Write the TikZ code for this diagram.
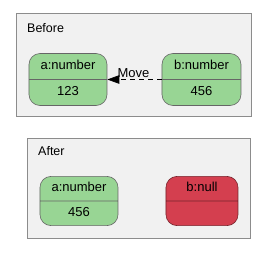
\documentclass[tikz,border=0pt]{standalone}
\usepackage{fontspec}
\setmainfont{Liberation Sans}
\usetikzlibrary{positioning,arrows.meta,shapes.multipart}
\definecolor{varGreen}{HTML}{98D594}
\definecolor{varRed}{HTML}{D43F4F}
\definecolor{frameFill}{HTML}{F1F1F1}
\tikzset{
  % --- containers ------------------------------------------------------
  frame/.style   ={draw=black!45, fill=frameFill, line width=0.8pt},
  ttl/.style     ={font=\fontsize{12.5}{15}\selectfont, anchor=west, inner sep=0},
  % --- variables -------------------------------------------------------
  var/.style     ={rectangle split, rectangle split parts=2, draw=black!60,
                   line width=0.6pt, rounded corners=11pt, align=center,
                   inner ysep=5.2pt, font=\fontsize{13}{15}\selectfont},
  live/.style    ={var, fill=varGreen},
  dead/.style    ={var, fill=varRed, draw=varRed!55!black},
  % --- arrows ----------------------------------------------------------
  move/.style    ={-{Triangle[length=12pt,width=8.5pt]}, line width=0.7pt,
                   dash pattern=on 5pt off 4pt},
  lab/.style     ={font=\fontsize{13}{15}\selectfont, inner sep=1.5pt},
}
\begin{document}
\begin{tikzpicture}[x=1pt,y=-1pt]
  \useasboundingbox (0,0) rectangle (269,255);

  % ===================== before =====================
  \node[frame, minimum width=235pt, minimum height=103pt, anchor=north west]
    (before) at (16,13) {};
  \node[ttl] (beforettl) at (27,28.5) {Before};
  \node[live, minimum width=78pt] (a1) at (68,79.5)
    {\strut a:number\nodepart{two}\strut 123};
  \node[live, minimum width=79pt] (b1) at (201.5,79.5)
    {\strut b:number\nodepart{two}\strut 456};
  \draw[move] (b1.text split west) -- node[lab, above, pos=0.52]{Move} (a1.text split east);

  % ===================== after =====================
  \node[frame, minimum width=223pt, minimum height=100pt, anchor=north west]
    (after) at (27,138) {};
  \node[ttl] (afterttl) at (38,151) {After};
  \node[live, minimum width=78pt, inner ysep=4.5pt] (a2) at (79,201)
    {\strut a:number\nodepart{two}\strut 456};
  \node[dead, minimum width=72pt, inner ysep=4.5pt] (b2) at (202,201)
    {\strut b:null\nodepart{two}\strut};

\end{tikzpicture}
\end{document}
